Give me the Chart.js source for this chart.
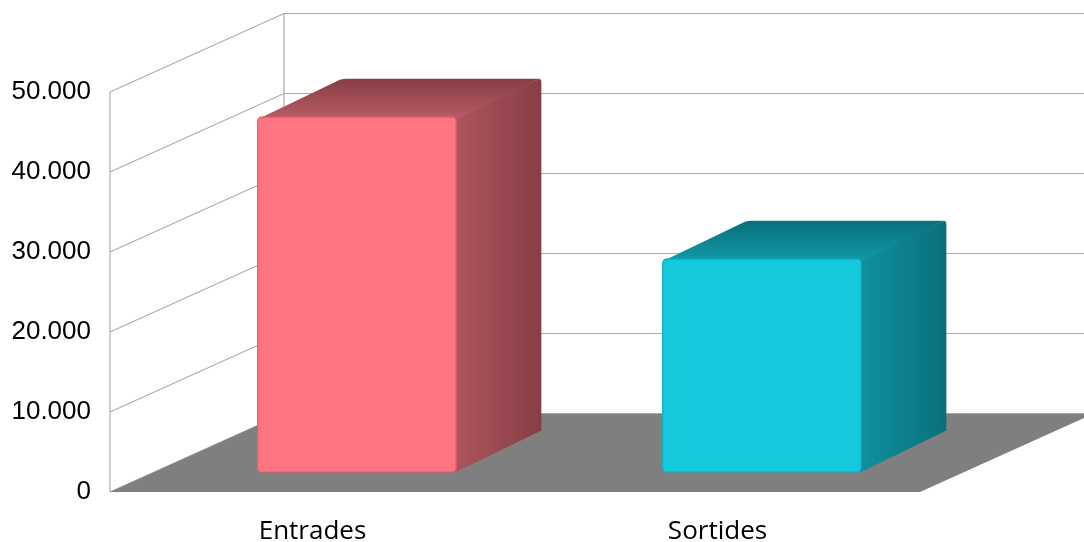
<!DOCTYPE html>
<html><head><meta charset="utf-8">
<script src="https://cdn.jsdelivr.net/npm/chart.js@4"></script>
<style>html,body{margin:0;padding:0;background:#fff}#wrap{width:1084px;height:542px}</style>
</head><body><div id="wrap"><canvas id="c" width="1084" height="542"></canvas></div>
<script>
const categories = ['Entrades', 'Sortides'];
const values = [44350, 26600];
const yMin = 0, yMax = 50000, yStep = 10000;
const frontColors = ['#ff7481', '#14c9dc'];
const frontEdge = ['#e2606c', '#10b0c2'];
const sideColors = [['#ad555e', '#883d45'], ['#10909e', '#09707b']];
const topColors = [['#873d45', '#b65b65'], ['#096f7b', '#1097a5']];

const DEPTH = { dx: 174, dy: -78.5 };   // full floor depth vector
const BAR_FRONT = 0.255, BAR_DEPTH = 0.49;

function fmt(v) { return String(v).replace(/\B(?=(\d{3})+(?!\d))/g, '.'); }

const walls3d = {
  id: 'walls3d',
  beforeDatasetsDraw(chart) {
    const { ctx, chartArea: a, scales: { y } } = chart;
    const W = chart.width;
    ctx.save();
    ctx.strokeStyle = '#ababab';
    ctx.lineWidth = 1.2;
    y.ticks.forEach(t => {
      const py = y.getPixelForValue(t.value);
      ctx.beginPath();
      ctx.moveTo(a.left, py);
      ctx.lineTo(a.left + DEPTH.dx, py + DEPTH.dy);
      ctx.lineTo(W + 5, py + DEPTH.dy);
      ctx.stroke();
    });
    ctx.beginPath();
    ctx.moveTo(a.left, a.top); ctx.lineTo(a.left, a.bottom);
    ctx.moveTo(a.left + DEPTH.dx, a.top + DEPTH.dy); ctx.lineTo(a.left + DEPTH.dx, a.bottom + DEPTH.dy);
    ctx.stroke();
    // floor
    ctx.fillStyle = '#7f7f7f';
    ctx.beginPath();
    ctx.moveTo(a.left, a.bottom);
    ctx.lineTo(a.right, a.bottom);
    ctx.lineTo(a.right + DEPTH.dx, a.bottom + DEPTH.dy);
    ctx.lineTo(a.left + DEPTH.dx, a.bottom + DEPTH.dy);
    ctx.closePath();
    ctx.fill();
    ctx.strokeStyle = '#a5a5a5';
    ctx.beginPath();
    ctx.moveTo(a.left + DEPTH.dx, a.bottom + DEPTH.dy);
    ctx.lineTo(W + 5, a.bottom + DEPTH.dy);
    ctx.stroke();
    ctx.restore();
  },
  afterDatasetsDraw(chart) {
    const { ctx } = chart;
    const meta = chart.getDatasetMeta(0);
    ctx.save();
    meta.data.forEach((el, i) => {
      const p = el.getProps(['x', 'y', 'base', 'width'], true);
      const ox = DEPTH.dx * BAR_FRONT, oy = DEPTH.dy * BAR_FRONT;
      const ddx = DEPTH.dx * BAR_DEPTH, ddy = DEPTH.dy * BAR_DEPTH;
      const xL = p.x - p.width / 2 + ox, xR = p.x + p.width / 2 + ox;
      const yT = p.y + oy, yB = p.base + oy;
      // side face
      let g = ctx.createLinearGradient(xR, 0, xR + ddx, 0);
      g.addColorStop(0, sideColors[i][0]); g.addColorStop(1, sideColors[i][1]);
      ctx.fillStyle = g;
      ctx.beginPath();
      ctx.moveTo(xR - 2, yT);
      ctx.lineTo(xR + ddx - 2, yT + ddy);
      ctx.arcTo(xR + ddx, yT + ddy, xR + ddx, yT + ddy + 3, 3);
      ctx.lineTo(xR + ddx, yB + ddy - 3);
      ctx.lineTo(xR, yB);
      ctx.lineTo(xR - 2, yB);
      ctx.closePath();
      ctx.fill();
      // top face
      g = ctx.createLinearGradient(0, yT + ddy, 0, yT);
      g.addColorStop(0, topColors[i][0]); g.addColorStop(1, topColors[i][1]);
      ctx.fillStyle = g;
      ctx.beginPath();
      ctx.moveTo(xL, yT + 2);
      ctx.lineTo(xL + ddx - 3, yT + ddy + 1);
      ctx.quadraticCurveTo(xL + ddx, yT + ddy, xL + ddx + 4, yT + ddy);
      ctx.lineTo(xR + ddx - 2, yT + ddy);
      ctx.lineTo(xR, yT + 2);
      ctx.closePath();
      ctx.fill();
      // front face
      ctx.fillStyle = frontColors[i];
      ctx.strokeStyle = frontEdge[i];
      ctx.lineWidth = 1.2;
      ctx.beginPath();
      ctx.roundRect(xL, yT, xR - xL, yB - yT, 4);
      ctx.fill();
      ctx.stroke();
    });
    ctx.restore();
  }
};

new Chart(document.getElementById('c'), {
  type: 'bar',
  data: {
    labels: categories,
    datasets: [{
      data: values,
      backgroundColor: 'rgba(0,0,0,0)',
      borderWidth: 0,
      barPercentage: BAR_DEPTH,
      categoryPercentage: 1
    }]
  },
  options: {
    responsive: false,
    animation: false,
    devicePixelRatio: 1,
    layout: { padding: { top: 92, right: 164, left: 0, bottom: 0 } },
    plugins: { legend: { display: false }, tooltip: { enabled: false } },
    scales: {
      x: {
        grid: { display: false, drawTicks: false },
        border: { display: false },
        ticks: { font: { family: 'Open Sans', size: 26 }, color: '#000', padding: 24 },
        afterFit(s) { s.height = 50; }
      },
      y: {
        min: yMin, max: yMax,
        grid: { display: false, drawTicks: false },
        border: { display: false },
        ticks: { stepSize: yStep, callback: v => fmt(v), font: { family: 'Liberation Sans', size: 26 }, color: '#000', padding: 19 },
        afterFit(s) { s.width = 110; }
      }
    }
  },
  plugins: [walls3d]
});
</script>
</body></html>
